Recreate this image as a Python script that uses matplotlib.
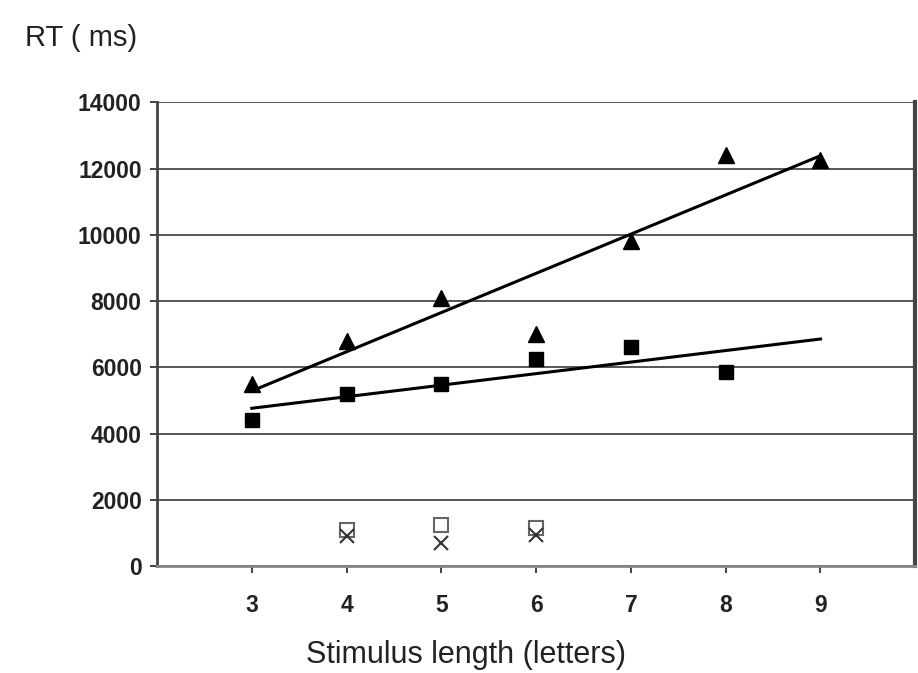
import numpy as np
import matplotlib
matplotlib.use("Agg")
import matplotlib.pyplot as plt

plt.rcParams["font.family"] = ["Liberation Sans", "DejaVu Sans"]

# data
letters = [3, 4, 5, 6, 7, 8, 9]
rt_triangle = [5500, 6800, 8100, 7000, 9800, 12400, 12250]

sq_letters = [3, 4, 5, 6, 7, 8]
rt_square = [4400, 5200, 5500, 6250, 6600, 5850]

open_letters = [4, 5, 6]
rt_open_square = [1100, 1250, 1150]
rt_cross = [900, 700, 950]

yticks = [0, 2000, 4000, 6000, 8000, 10000, 12000, 14000]

fig = plt.figure(figsize=(9.18, 6.73), dpi=100)
ax = fig.add_axes([0.171, 0.159, 0.826, 0.689])

for y in yticks:
    ax.axhline(y, color="#555555", lw=1.4, zorder=1)

ax.plot(letters, rt_triangle, "^", color="black", ms=12, zorder=4)
ax.plot(sq_letters, rt_square, "s", color="black", ms=10.5, zorder=4)
ax.plot(open_letters, rt_open_square, "s", mfc="none", mec="#666666",
        mew=1.5, ms=9.5, zorder=4)
ax.plot(open_letters, rt_cross, "x", color="#333333", mew=1.5, ms=10, zorder=4)

# linear trend lines
xs = np.array([3, 9])
k1 = np.polyfit(letters, rt_triangle, 1)
ax.plot(xs, np.polyval(k1, xs), color="black", lw=2.2, zorder=3)
k2 = np.polyfit(sq_letters, rt_square, 1)
ax.plot(xs, np.polyval(k2, xs), color="black", lw=2.2, zorder=3)

ax.set_xlim(2, 10)
ax.set_ylim(0, 14000)
ax.set_xticks(letters)
ax.set_yticks(yticks)
ax.tick_params(axis="both", labelsize=16.5, colors="#222222", length=5,
               width=1.2)
ax.tick_params(axis="x", pad=15)
ax.tick_params(axis="y", pad=6)
for lab in ax.get_xticklabels() + ax.get_yticklabels():
    lab.set_fontweight("bold")

for side in ["left", "right"]:
    ax.spines[side].set_color("#444444")
    ax.spines[side].set_linewidth(2)
ax.spines["right"].set_linewidth(3)
ax.spines["bottom"].set_color("#888888")
ax.spines["bottom"].set_linewidth(2)
ax.spines["top"].set_visible(False)

fig.text(0.027, 0.943, "RT ( ms)", fontsize=21, color="#222222",
         ha="left", va="center")
fig.text(0.508, 0.027, "Stimulus length (letters)", fontsize=22,
         color="#222222", ha="center", va="center")

fig.savefig("out.png", dpi=100, facecolor="white")
